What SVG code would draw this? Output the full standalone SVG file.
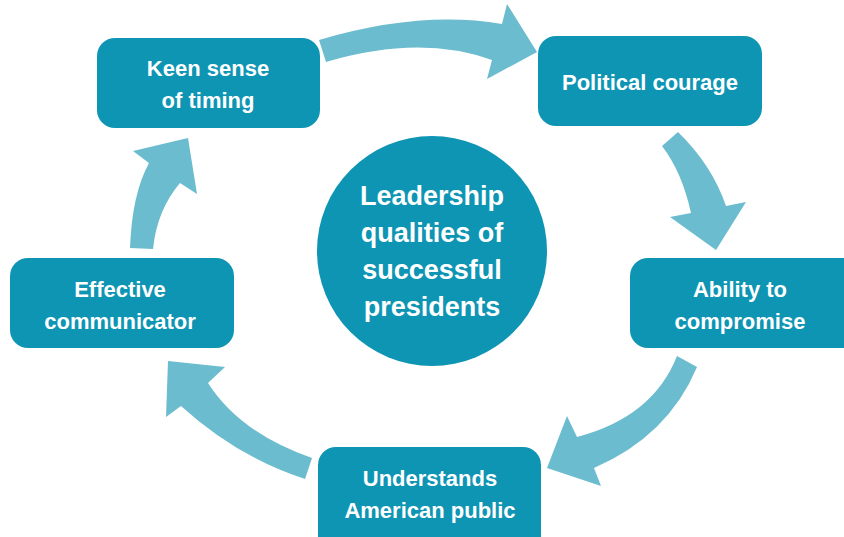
<svg xmlns="http://www.w3.org/2000/svg" width="844" height="537" viewBox="0 0 844 537">
<style>
.box{fill:#0e95b3}
.arrow{fill:#6bbccf}
.lbl{font-family:"Liberation Sans",Arial,sans-serif;font-weight:bold;font-size:22px;fill:#fff;text-anchor:middle}
.ctr{font-family:"Liberation Sans",Arial,sans-serif;font-weight:bold;font-size:27px;fill:#fff;text-anchor:middle}
</style>
<rect width="844" height="537" fill="#fff"/>
<g id="connectors">
<path class="arrow" d="M319,40 Q420,10 502,24 L507,4 L537,52 L487,79 L492,60 Q420,34 326,62 Z"/>
<path class="arrow" d="M678,132 Q712,165 726,206 L746,202 L716,250 L670,217 L691,213 Q682,172 662,146 Z"/>
<path class="arrow" d="M677,356 Q653,417 577,437 L567,416 L547,468 L601,486 L594,468 Q668,436 697,367 Z"/>
<path class="arrow" d="M312,458 Q240,433 208,383 L225,367 L168,361 L166,417 L181,406 Q237,457 305,479 Z"/>
<path class="arrow" d="M130,248 Q132,194 149,163 L133,151 L188,138 L197,194 L180,183 Q157,210 153,249 Z"/>
</g>
<g id="center">
<circle cx="432" cy="251" r="115" class="box"/>
<text class="ctr" x="432" y="205">Leadership</text>
<text class="ctr" x="432" y="242">qualities of</text>
<text class="ctr" x="432" y="279">successful</text>
<text class="ctr" x="432" y="316">presidents</text>
</g>
<g id="keen">
<rect class="box" x="97" y="38" width="223" height="90" rx="18"/>
<text class="lbl" x="208" y="76">Keen sense</text>
<text class="lbl" x="208" y="108">of timing</text>
</g>
<g id="political">
<rect class="box" x="538" y="36" width="224" height="90" rx="18"/>
<text class="lbl" x="650" y="90">Political courage</text>
</g>
<g id="ability">
<rect class="box" x="630" y="258" width="234" height="90" rx="18"/>
<text class="lbl" x="740" y="297">Ability to</text>
<text class="lbl" x="740" y="329">compromise</text>
</g>
<g id="understands">
<rect class="box" x="318" y="447" width="223" height="110" rx="18"/>
<text class="lbl" x="430" y="486">Understands</text>
<text class="lbl" x="430" y="518">American public</text>
</g>
<g id="effective">
<rect class="box" x="10" y="258" width="224" height="90" rx="18"/>
<text class="lbl" x="120" y="297">Effective</text>
<text class="lbl" x="120" y="329">communicator</text>
</g>
</svg>
